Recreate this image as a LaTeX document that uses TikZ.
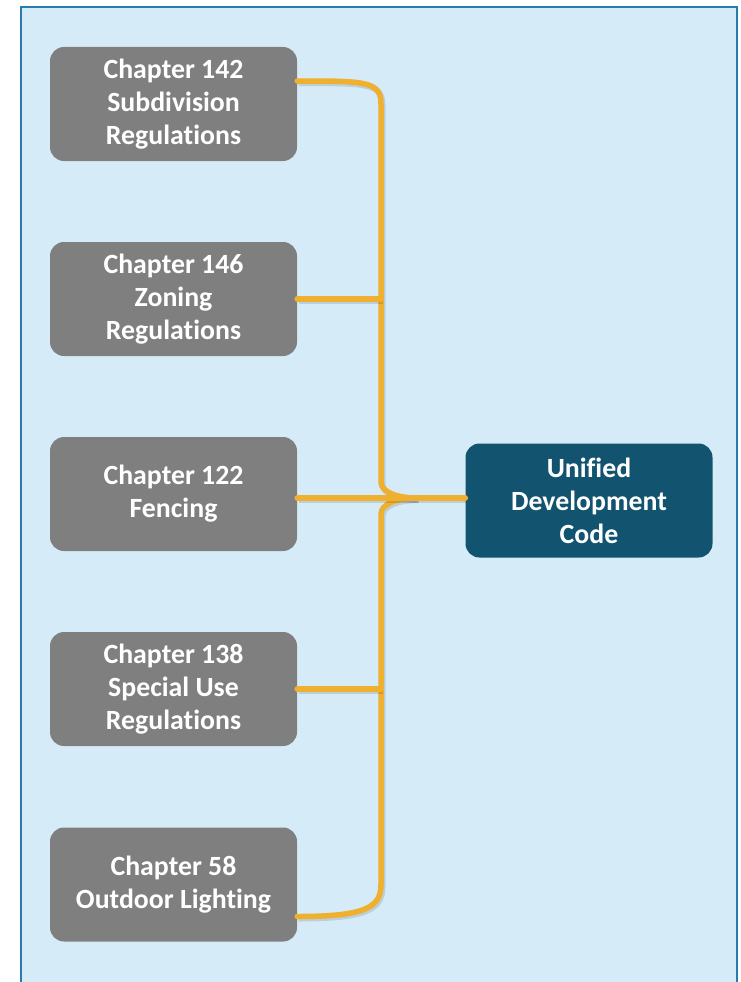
\documentclass[tikz,border=0pt]{standalone}
\usepackage{fontspec}
\setmainfont{Carlito}[Ligatures=NoCommon]
\usetikzlibrary{calc}
\definecolor{panelblue}{HTML}{D5ECF8}
\definecolor{paneledge}{HTML}{2A7CAE}
\definecolor{boxgray}{HTML}{7F7F7F}
\definecolor{codeblue}{HTML}{12546F}
\definecolor{linkorange}{HTML}{EFB02F}
\tikzset{
	chapter/.style={
			fill=boxgray, rounded corners=14pt, inner sep=0pt,
			minimum width=247pt, minimum height=114pt,
			text=white, align=center,
			font=\fontsize{27.8}{33}\selectfont\bfseries
		},
	udc/.style={chapter, fill=codeblue},
	link/.style={
			draw=linkorange, line width=5.5pt, line cap=round,
			preaction={draw=black, opacity=0.12, line width=6pt,
					transform canvas={shift={(1.5pt,-2pt)}}}
		}
}

\begin{document}
\begin{tikzpicture}[x=1pt, y=-1pt]
        % Panel
        \useasboundingbox (0,0) rectangle (740,982);
        \clip (0,0) rectangle (740,982);
        \fill[white] (0,0) rectangle (740,982);
        \draw[paneledge, fill=panelblue, line width=2pt] (21,7) rectangle (737,1000);

        % Chapters
        \foreach \n/\y/\txt in {1/104/{Chapter 142\\Subdivision\\Regulations},
                2/299/{Chapter 146\\Zoning\\Regulations},
                3/494/{Chapter 122\\Fencing},
                4/689/{Chapter 138\\Special Use\\Regulations},
                5/884.5/{Chapter 58\\Outdoor Lighting}} {
            \node[chapter] (ch\n) at (173.5,\y) {\txt};
        }

        % Unified code
        \node[udc] (udc) at (589,500.5) {Unified\\Development\\Code};
        \coordinate (bus) at (381,498);

        % Links
        \draw[link] ([yshift=23pt]ch1.east) .. controls +(68,0) and +(0,-23) .. (bus |- ch1.east)
            -- ($(bus)+(0,-16)$) .. controls +(0,10) and +(-20,0) .. ($(bus)+(36,0)$);
        \draw[link] ([yshift=-32pt]ch5.east) .. controls +(68,0) and +(0,23) .. (bus |- ch5.east)
            -- ($(bus)+(0,16)$) .. controls +(0,-10) and +(-20,0) .. ($(bus)+(36,0)$);
        \draw[link] (ch2.east) -- (bus |- ch2.east);
        \draw[link] (ch4.east) -- (bus |- ch4.east);
        \draw[link] (ch3.east |- bus) -- (bus -| udc.west);

\end{tikzpicture}
\end{document}
